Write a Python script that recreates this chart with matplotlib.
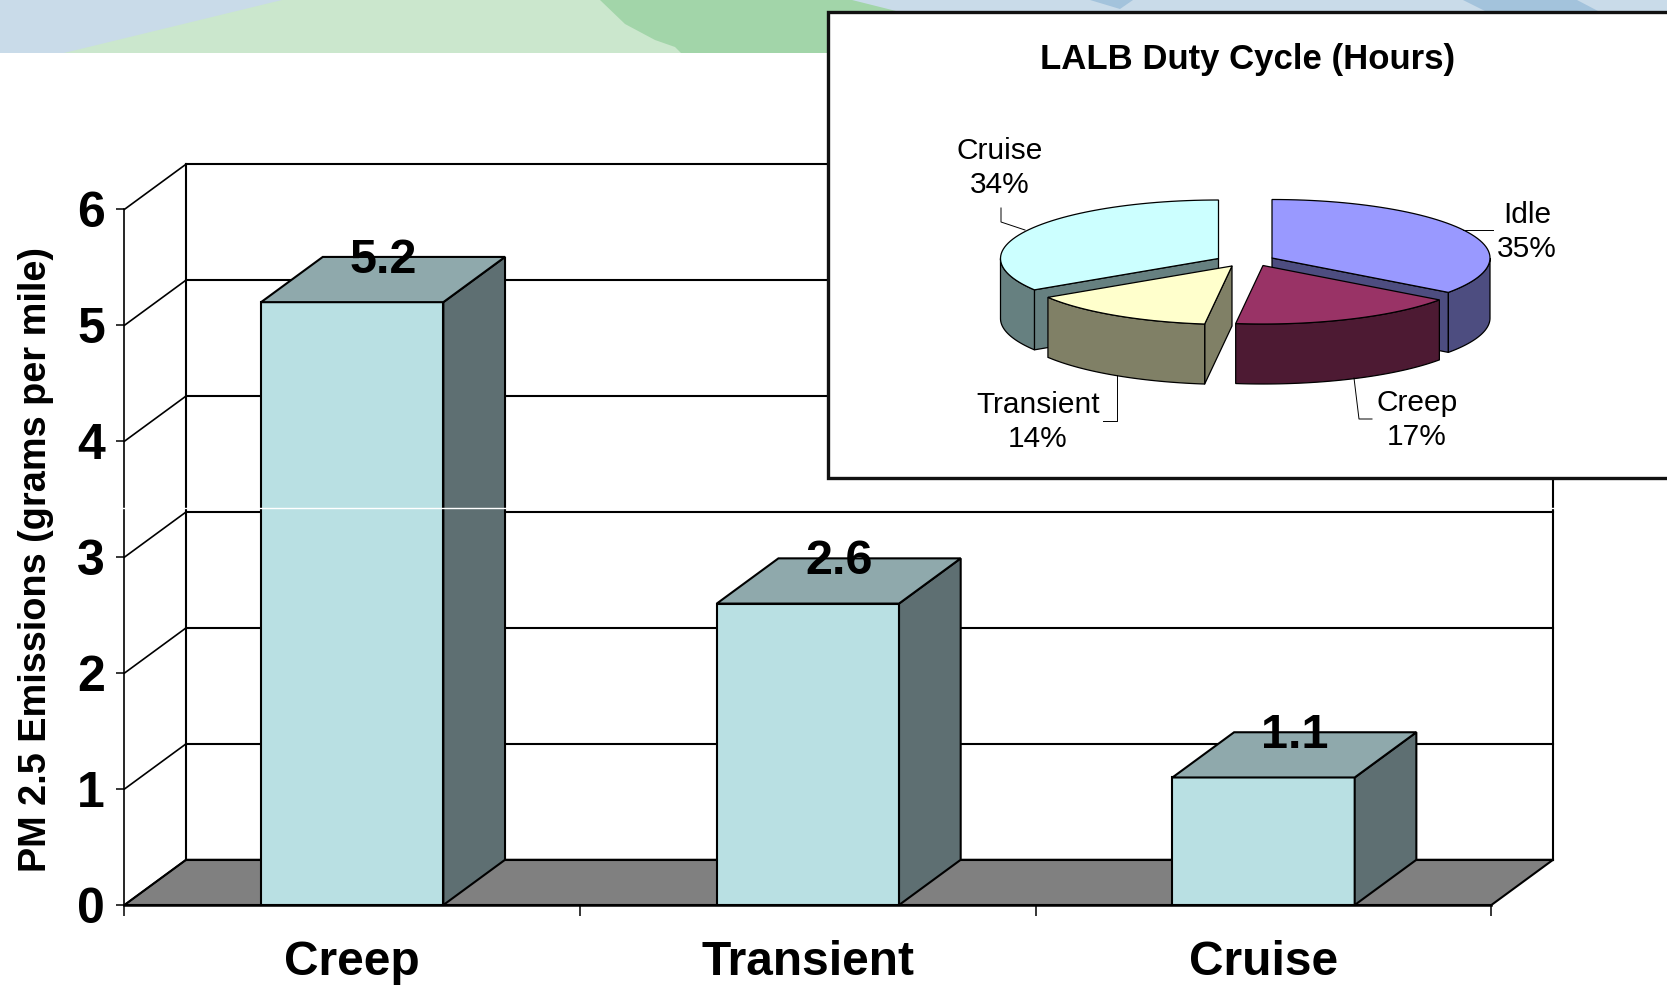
import numpy as np
import matplotlib
matplotlib.use("Agg")
import matplotlib.pyplot as plt
from matplotlib.patches import Polygon, Rectangle
from matplotlib.lines import Line2D

plt.rcParams['font.family'] = ['Liberation Sans', 'DejaVu Sans']

# bar chart data
categories = ["Creep", "Transient", "Cruise"]
pm_values = [5.2, 2.6, 1.1]
y_ticks = [0, 1, 2, 3, 4, 5, 6]

# pie chart data
pie_labels = ["Idle", "Creep", "Transient", "Cruise"]
pie_shares = [35, 17, 14, 34]
pie_top = ["#9999ff", "#993366", "#ffffcc", "#ccffff"]
pie_wall = ["#4d4d80", "#4d1a33", "#808066", "#668080"]

W, H = 1667, 986
fig = plt.figure(figsize=(W / 100, H / 100), dpi=100, facecolor="white")

# banner behind everything, in pixel coords
bg = fig.add_axes([0, 0, 1, 1], zorder=0)
bg.set_xlim(0, W)
bg.set_ylim(H, 0)
bg.axis("off")
bg.add_patch(Rectangle((0, 0), W, 53, fc="#c9dbe9", ec="none"))
bg.add_patch(Polygon([(1090, 0), (1133, 0), (1120, 9)], fc="#a3c3dc", ec="none"))
bg.add_patch(Polygon([(1463, 0), (1485, 11), (1598, 11), (1577, 0)], fc="#a3c3dc", ec="none"))
bg.add_patch(Polygon([(590, 0), (852, 0), (900, 12), (900, 53), (640, 53)], fc="#a2d5a9", ec="none"))
bg.add_patch(Polygon([(64, 53), (282, 0), (600, 0), (625, 24), (655, 40), (675, 47), (681, 53)],
                     fc="#cbe7cd", ec="none"))

# main chart, axes box is the front plane of the 3d box
ax = fig.add_axes([124.4 / W, 1 - 905 / H, 1367 / W, 695.6 / H], zorder=1)
ax.set_xlim(0, 3)
ax.set_ylim(0, 6)
ax.patch.set_visible(False)
for s in ["top", "right"]:
    ax.spines[s].set_visible(False)
ax.spines["left"].set_linewidth(1.2)
ax.spines["bottom"].set_linewidth(1.8)

dx = 0.1353
dy = 0.39
bar_w = 0.4
line_w = 1.5

ax.add_patch(Polygon([(0, 0), (3, 0), (3 + dx, dy), (dx, dy)], fc="#808080", ec="black", lw=line_w, clip_on=False))
for t in y_ticks:
    ax.plot([dx, 3 + dx], [t + dy, t + dy], color="black", lw=line_w, clip_on=False)
    ax.plot([0, dx], [t, t + dy], color="black", lw=1.2, clip_on=False)
ax.plot([dx, dx], [dy, 6 + dy], color="black", lw=line_w, clip_on=False)
ax.plot([3 + dx, 3 + dx], [dy, 6 + dy], color="black", lw=line_w, clip_on=False)

for i, v in enumerate(pm_values):
    x0 = i + 0.5 - bar_w / 2
    x1 = i + 0.5 + bar_w / 2
    ax.bar(i + 0.5, v, width=bar_w, color="#b9e0e3", edgecolor="black", linewidth=line_w, clip_on=False, zorder=3)
    ax.add_patch(Polygon([(x1, 0), (x1 + dx, dy), (x1 + dx, v + dy), (x1, v)],
                         fc="#5e6f72", ec="black", lw=line_w, clip_on=False, zorder=3))
    ax.add_patch(Polygon([(x0, v), (x1, v), (x1 + dx, v + dy), (x0 + dx, v + dy)],
                         fc="#8fa9ac", ec="black", lw=line_w, clip_on=False, zorder=3))
    ax.text(i + 0.5 + dx / 2, v + dy - 0.03, str(v), ha="center", va="center", fontsize=35,
            fontweight="bold", zorder=4, clip_on=False)

ax.set_yticks(y_ticks)
ax.set_yticklabels([str(t) for t in y_ticks], fontsize=36, fontweight="bold")
ax.tick_params(axis="y", length=6, width=1.1, pad=8)
ax.set_xticks([0, 1, 2, 3])
ax.set_xticklabels([])
ax.tick_params(axis="x", length=8, width=1.1)
ax.set_xticks([0.5, 1.5, 2.5], minor=True)
ax.set_xticklabels(categories, minor=True, fontsize=34.5, fontweight="bold")
ax.tick_params(axis="x", which="minor", length=0, pad=25)

fig.text(36 / W, 1 - 560 / H, "PM 2.5 Emissions (grams per mile)", rotation=90, ha="center", va="center",
         fontsize=27.3, fontweight="bold")

# white seam across the picture
fig.add_artist(Line2D([0, 1], [1 - 508 / H, 1 - 508 / H], color="white", lw=1, zorder=1.5))

# inset box with the pie, in pixel coords
pie = fig.add_axes([0, 0, 1, 1], zorder=2)
pie.set_xlim(0, W)
pie.set_ylim(H, 0)
pie.axis("off")
pie.add_patch(Rectangle((828, 11.5), W, 466, fc="white", ec="#111111", lw=2.4))
pie.text(1248, 60, "LALB Duty Cycle (Hours)", ha="center", va="center", fontsize=25, fontweight="bold")

rx, ry, depth = 218, 58.5, 60
centers = [(1272, 258), (1263, 265.5), (1232, 266), (1218.5, 258.5)]


def arc(cx, cy, a0, a1, drop=0):
    t = np.radians(np.linspace(a0, a1, 60))
    return np.column_stack([cx + rx * np.sin(t), cy - ry * np.cos(t) + drop])


def corner(cx, cy, a):
    return arc(cx, cy, a, a)[0]


edges = np.cumsum([0] + pie_shares) * 3.6
for k in [3, 0, 2, 1]:
    cx, cy = centers[k]
    a0, a1 = edges[k], edges[k + 1]
    # cut faces that look towards the viewer
    for a, visible in [(a0, np.sin(np.radians(a0)) < -1e-6), (a1, np.sin(np.radians(a1)) > 1e-6)]:
        if visible:
            p = corner(cx, cy, a)
            face = [(cx, cy), tuple(p), (p[0], p[1] + depth), (cx, cy + depth)]
            pie.add_patch(Polygon(face, fc=pie_wall[k], ec="black", lw=0.9, joinstyle="round"))
    # outer wall, lower half of the ellipse only
    w0, w1 = max(a0, 90), min(a1, 270)
    if w1 > w0:
        wall = np.vstack([arc(cx, cy, w0, w1), arc(cx, cy, w1, w0, depth)])
        pie.add_patch(Polygon(wall, fc=pie_wall[k], ec="black", lw=0.9))
    top = np.vstack([[(cx, cy)], arc(cx, cy, a0, a1)])
    pie.add_patch(Polygon(top, fc=pie_top[k], ec="black", lw=0.9))

label_pos = [(1527, 232), (1417, 420), (1038, 422), (1000, 168)]
for name, share, (lx, ly) in zip(pie_labels, pie_shares, label_pos):
    pie.text(lx, ly, f"{name}\n{share}%", ha="center", va="center", fontsize=21.5, linespacing=1.3)

leaders = [
    [(1463, 230), (1493, 230)],
    [(1354, 378), (1359, 419), (1372, 419)],
    [(1117, 375), (1117, 421), (1103, 421)],
    [(1001, 208), (1001, 222), (1025, 230)],
]
for pts in leaders:
    pts = np.array(pts)
    pie.plot(pts[:, 0], pts[:, 1], color="black", lw=0.7)

fig.savefig("out.png", dpi=100)
